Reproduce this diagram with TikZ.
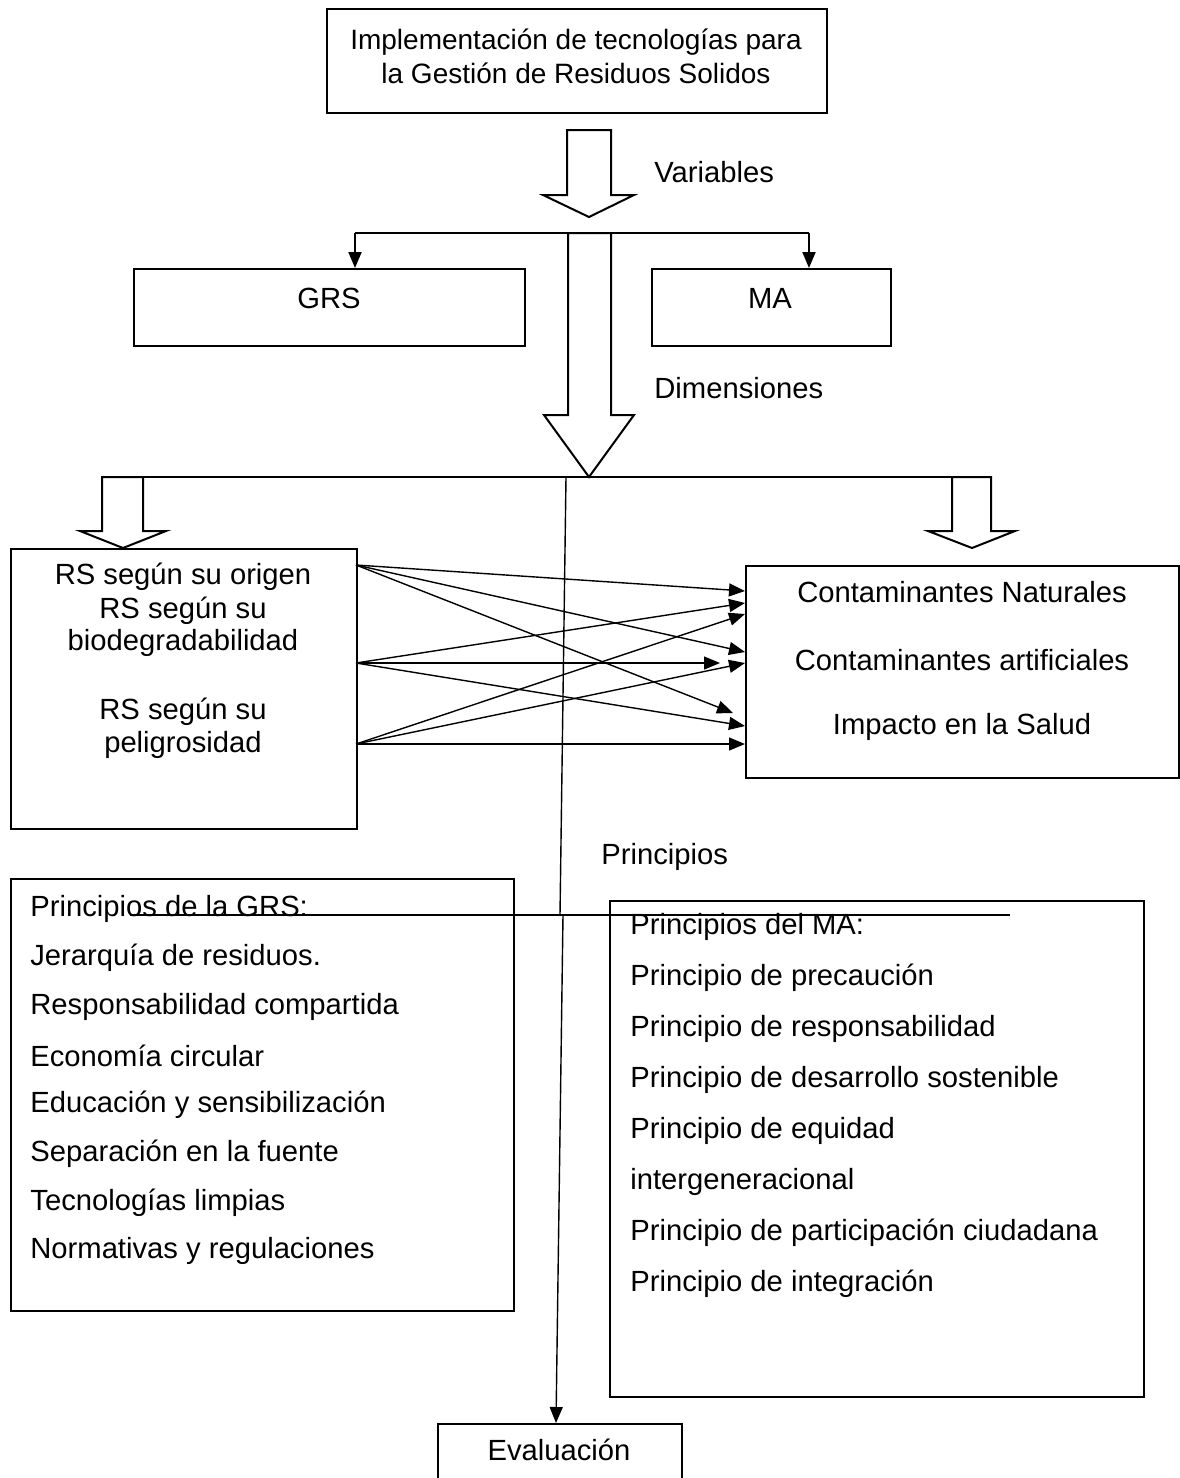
\documentclass[tikz,border=0pt]{standalone}
\usepackage{fontspec}
\setmainfont{Liberation Sans}
\usetikzlibrary{arrows.meta}
\begin{document}
\begin{tikzpicture}[x=0.5pt,y=-0.5pt,
  box/.style={draw,line width=1pt,inner sep=0pt,anchor=north west},
  txt/.style={inner sep=0pt,font=\fontsize{14.6}{16.5}\selectfont},
  toptxt/.style={inner sep=0pt,font=\fontsize{14}{16.5}\selectfont},
  ltxt/.style={txt,anchor=west},
  blockarrow/.style={draw,line width=1pt,fill=white,line join=miter},
  thin/.style={line width=0.7pt},
  tip/.style={-{Triangle[length=8pt,width=6.5pt]}}
]
\useasboundingbox (0,0) rectangle (1179,1478);
% boxes
\node[box,minimum width=250pt,minimum height=52pt] (top) at (326,8) {};
\node[box,minimum width=195.5pt,minimum height=38.5pt] (grs) at (133,268) {};
\node[box,minimum width=119.5pt,minimum height=38.5pt] (ma) at (651,268) {};
\node[box,minimum width=173pt,minimum height=140pt] (rs) at (10,548) {};
\node[box,minimum width=216.5pt,minimum height=106pt] (cont) at (745,565) {};
\node[box,minimum width=251.5pt,minimum height=216pt] (pgrs) at (10,878) {};
\node[box,minimum width=267pt,minimum height=248pt] (pma) at (609,900) {};
\node[box,minimum width=122pt,minimum height=40pt] (eval) at (437,1423) {};
% texts
\node[toptxt] (t1) at (576,42) {Implementación de tecnologías para};
\node[toptxt] (t2) at (576,73) {la Gestión de Residuos Solidos};
\node[ltxt] (var) at (654,172) {Variables};
\node[txt] (grst) at (329,298) {GRS};
\node[txt] (mat) at (770,298) {MA};
\node[ltxt] (dim) at (654,388) {Dimensiones};
\node[txt] (r1) at (183,577) {RS según su origen};
\node[txt] (r2) at (183,611) {RS según su};
\node[txt] (r3) at (183,643) {biodegradabilidad};
\node[txt] (r4) at (183,712) {RS según su};
\node[txt] (r5) at (183,745) {peligrosidad};
\node[txt] (c1) at (962,592) {Contaminantes Naturales};
\node[txt] (c2) at (962,660) {Contaminantes artificiales};
\node[txt] (c3) at (962,727) {Impacto en la Salud};
\node[ltxt] (prin) at (601,857) {Principios};
\foreach \t [count=\i] in {Principios de la GRS:,Jerarquía de residuos.,Responsabilidad compartida,Economía circular,Educación y sensibilización,Separación en la fuente,Tecnologías limpias,Normativas y regulaciones}
  \node[ltxt] (g\i) at (30,{909+48.9*(\i-1)}) {\t};
\foreach \t [count=\i] in {Principios del MA:,Principio de precaución,Principio de responsabilidad,Principio de desarrollo sostenible,Principio de equidad,intergeneracional,Principio de participación ciudadana,Principio de integración}
  \node[ltxt] (m\i) at (630,{927+50.9*(\i-1)}) {\t};
\node[txt] (evt) at (559,1450) {Evaluación};
% block arrows
\draw[blockarrow] (567,130) -- (611,130) -- (611,195) -- (634,195) -- (589,217) -- (543,195) -- (567,195) -- cycle;
\draw[blockarrow] (568,233) -- (611,233) -- (611,415) -- (634,415) -- (589,477) -- (544,415) -- (568,415) -- cycle;
\draw[line width=1pt] (102,477) -- (991,477);
\draw[blockarrow] (102,477) -- (143,477) -- (143,531) -- (166,531) -- (123,548) -- (80,531) -- (102,531) -- cycle;
\draw[blockarrow] (952,477) -- (991,477) -- (991,531) -- (1015,531) -- (972,548) -- (928,531) -- (952,531) -- cycle;
% bracket
\coordinate (bl) at (355,233);
\coordinate (br) at (809,233);
\draw[line width=1pt,tip] (bl) -- (355,268);
\draw[line width=1pt,tip] (br) -- (809,268);
\draw[line width=1pt] (bl) -- (br);
% cross arrows
\coordinate (s1) at (356,565);
\coordinate (s2) at (356,663);
\coordinate (s3) at (356,744);
\coordinate (e1) at (745,591);
\coordinate (e2) at (745,603);
\coordinate (e3) at (745,614);
\coordinate (e4) at (745,652);
\coordinate (e5) at (745,663);
\coordinate (e6) at (745,726);
\coordinate (e7) at (745,744);
\coordinate (u1) at (733,713);
\coordinate (u2) at (720,663);
\foreach \a/\b in {s1/e1,s1/e4,s1/u1,s2/e2,s2/u2,s2/e6,s3/e3,s3/e5,s3/e7}
  \draw[thin,tip] (\a) -- (\b);
% central thin line
\coordinate (v0) at (566,477);
\coordinate (v1) at (560,915);
\coordinate (v2) at (563,915);
\coordinate (ha) at (130,915);
\coordinate (hb) at (1010,915);
\draw[thin] (v0) -- (v1);
\draw[line width=0.9pt] (ha) -- (hb);
\draw[thin,tip] (v2) -- (eval.north -| 556,0);
\end{tikzpicture}
\end{document}
